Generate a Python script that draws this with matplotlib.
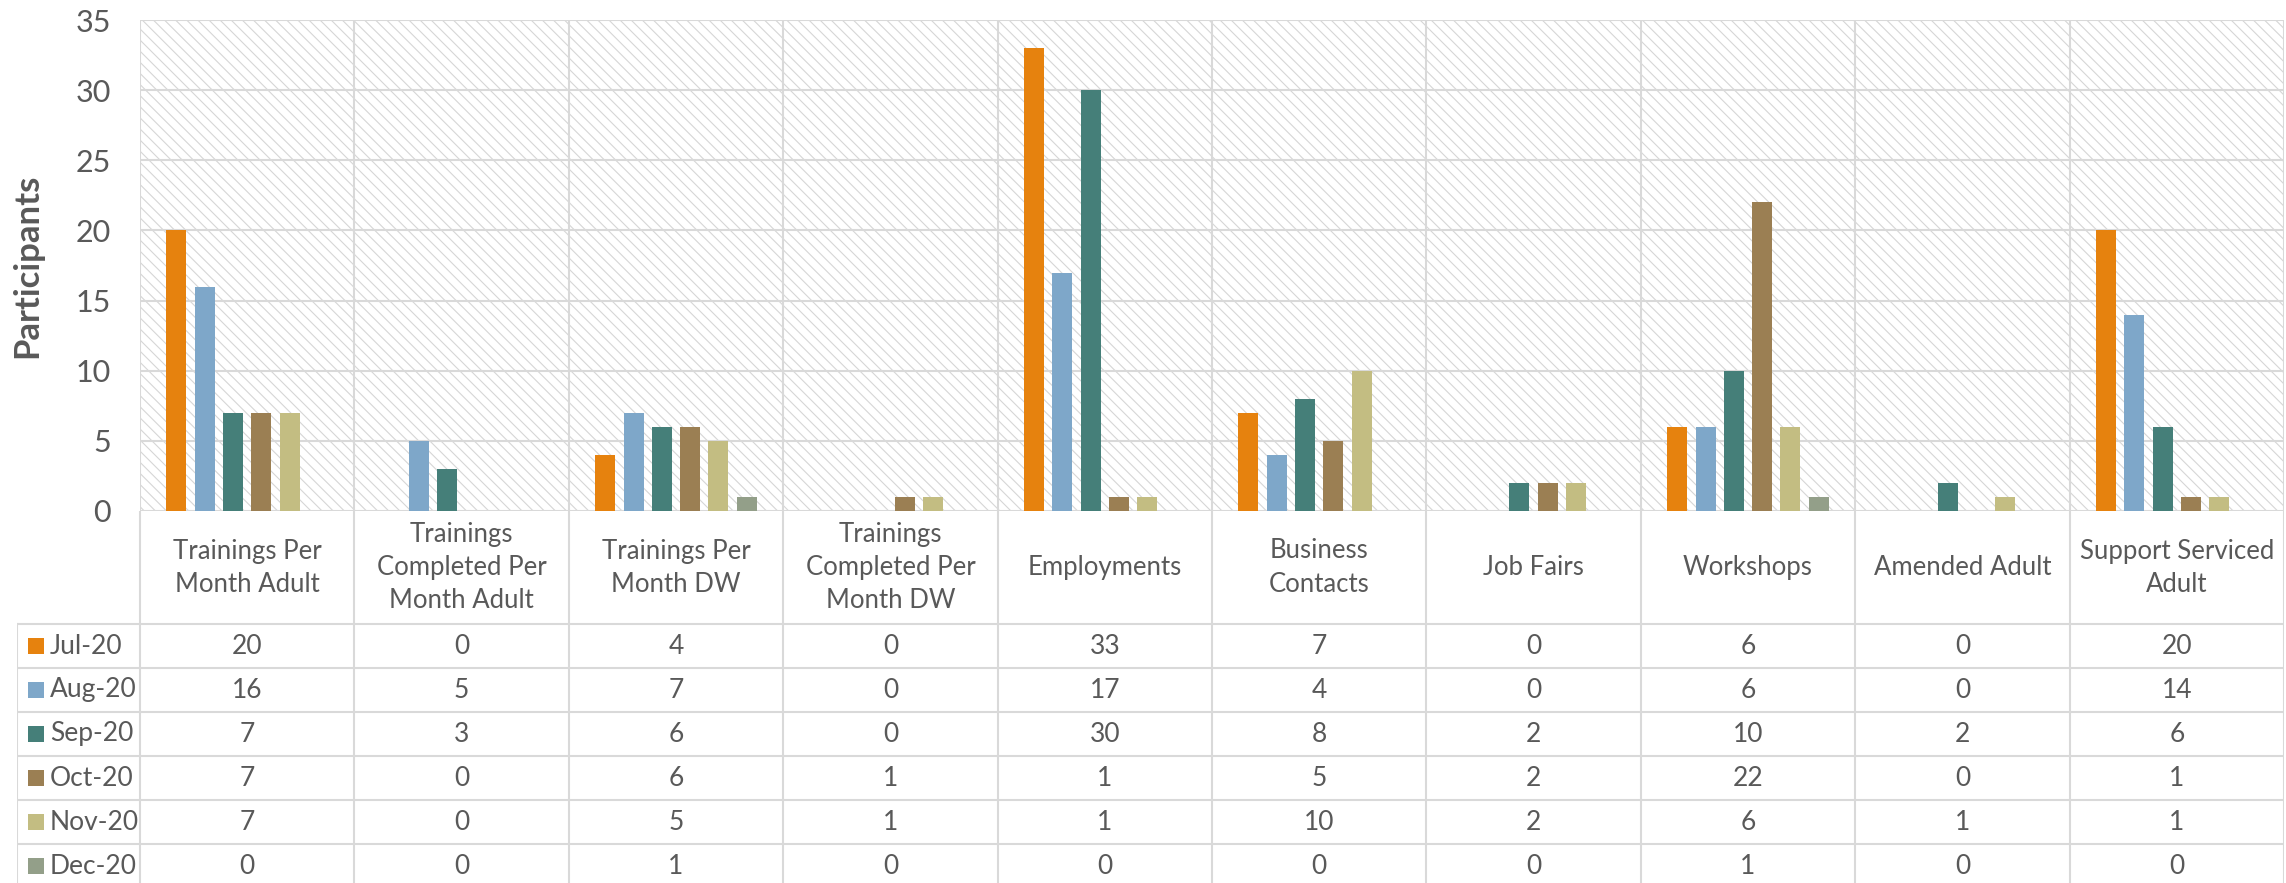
import matplotlib
matplotlib.use("Agg")
import matplotlib.pyplot as plt
from matplotlib.patches import Rectangle
import numpy as np

categories = [
    "Trainings Per\nMonth Adult",
    "Trainings\nCompleted Per\nMonth Adult",
    "Trainings Per\nMonth DW",
    "Trainings\nCompleted Per\nMonth DW",
    "Employments",
    "Business\nContacts",
    "Job Fairs",
    "Workshops",
    "Amended Adult",
    "Support Serviced\nAdult",
]
months = ["Jul-20", "Aug-20", "Sep-20", "Oct-20", "Nov-20", "Dec-20"]
jul_20 = [20, 0, 4, 0, 33, 7, 0, 6, 0, 20]
aug_20 = [16, 5, 7, 0, 17, 4, 0, 6, 0, 14]
sep_20 = [7, 3, 6, 0, 30, 8, 2, 10, 2, 6]
oct_20 = [7, 0, 6, 1, 1, 5, 2, 22, 0, 1]
nov_20 = [7, 0, 5, 1, 1, 10, 2, 6, 1, 1]
dec_20 = [0, 0, 1, 0, 0, 0, 0, 1, 0, 0]
series = [jul_20, aug_20, sep_20, oct_20, nov_20, dec_20]
colors = ["#E6820E", "#7EA7C9", "#457F79", "#9B7F53", "#C3BD82", "#939F89"]

TEXT = "#595959"
GRID = "#D9D9D9"
plt.rcParams["font.family"] = ["Lato", "DejaVu Sans"]
plt.rcParams["hatch.color"] = "#D6D6D6"
plt.rcParams["hatch.linewidth"] = 0.8

W, H = 2286, 883
fig = plt.figure(figsize=(W / 100, H / 100), dpi=100)

# pixel layout
plot_left, plot_right = 140, 2284
plot_top, plot_base = 20, 511
table_left = 17
col_w = (plot_right - plot_left) / len(categories)
row_px = 44
header_px = 113

ax = fig.add_axes([plot_left / W, (H - plot_base) / H,
                   (plot_right - plot_left) / W, (plot_base - plot_top) / H])
x = np.arange(len(categories))
ax.set_xlim(-0.5, len(categories) - 0.5)
ax.set_ylim(0, 35)
ax.add_patch(Rectangle((0, 0), 1, 1, transform=ax.transAxes, facecolor="white",
                       hatch="\\\\\\", edgecolor="#D6D6D6", lw=0, zorder=0))
for k in range(len(categories) + 1):
    ax.axvline(k - 0.5, color=GRID, lw=1.5, zorder=1)
for v in range(0, 36, 5):
    ax.axhline(v, color=GRID, lw=1.5, zorder=1)

step = 28.3 / col_w
bw = 20 / col_w
for j, (vals, c) in enumerate(zip(series, colors)):
    ax.bar(x + (j - 2.5) * step, vals, width=bw, color=c, zorder=3)

ax.set_yticks(range(0, 36, 5))
ax.set_xticks([])
ax.tick_params(axis="y", length=0, pad=21, labelsize=22, labelcolor=TEXT)
for s in ax.spines.values():
    s.set_visible(False)

fig.text(27 / W, 1 - (plot_top + plot_base) / 2 / H, "Participants", rotation=90,
         ha="center", va="center", fontsize=25, fontweight="bold", color=TEXT)

# data table
tab = fig.add_axes([table_left / W, 0, (plot_right - table_left) / W, (H - plot_base) / H])
x_left = -0.5 - (plot_left - table_left) / col_w
hdr = header_px / row_px
tab.set_xlim(x_left, len(categories) - 0.5)
tab.set_ylim((H - plot_base) / row_px, 0)
tab.axis("off")

for k in range(len(categories) + 1):
    tab.plot([k - 0.5, k - 0.5], [0, 20], color=GRID, lw=1.5)
tab.plot([x_left, x_left], [hdr, 20], color=GRID, lw=1.5)
for i in range(len(months) + 1):
    tab.plot([x_left, len(categories) - 0.5], [hdr + i, hdr + i], color=GRID, lw=1.5)

for ci, cat in enumerate(categories):
    tab.text(ci, hdr / 2, cat, ha="center", va="center", fontsize=18.5,
             color=TEXT, linespacing=1.4)

sw = 16 / col_w
for i, (m, vals, c) in enumerate(zip(months, series, colors)):
    yc = hdr + i + 0.5
    tab.add_patch(Rectangle((x_left + 11 / col_w, yc - 8 / row_px), sw, 16 / row_px,
                            facecolor=c, edgecolor="none"))
    tab.text(x_left + 33 / col_w, yc, m, ha="left", va="center", fontsize=19, color=TEXT)
    for ci, v in enumerate(vals):
        tab.text(ci, yc, str(v), ha="center", va="center", fontsize=19, color=TEXT)

fig.savefig("out.png", dpi=100)
